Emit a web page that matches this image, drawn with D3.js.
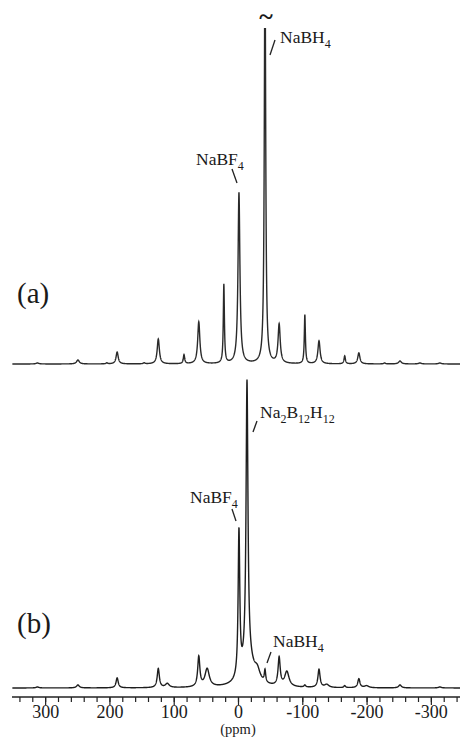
<!DOCTYPE html>
<html>
<head>
<meta charset="utf-8">
<style>
body { margin: 0; background: #fff; }
svg { display: block; }
text { font-family: "Liberation Serif", "DejaVu Serif", serif; fill: #1a1a1a; }
</style>
</head>
<body>
<svg width="460" height="737"></svg>
<script src="https://d3js.org/d3.v7.min.js"></script>
<script>

// (a) peaks: shift (ppm), height, line width (ppm)
var shiftsA  = [312, 249, 204, 188, 146, 124, 84, 61, 22, -1.5, -42, -64, -104, -126, -166, -188, -228, -252, -283, -314];
var heightsA = [1, 4, 1, 12, 1, 25, 9, 42, 79, 171, 420, 39, 49, 23, 8, 11, 1, 3, 1, 1];
var widthsA  = [5, 5, 3, 4, 3, 4, 2.5, 4, 2, 3.5, 2.5, 4, 2, 4, 2.5, 4, 3, 5, 5, 5];

// (b) peaks
var shiftsB  = [312, 249, 188, 124, 110, 61, 48, -1.5, -14, -16, -30, -42, -64, -76, -104, -126, -138, -166, -188, -200, -252, -314];
var heightsB = [1, 3, 10, 19, 4, 30, 18, 146, 281, 25, 10, 12, 28, 15, 2, 18, 3, 2, 9, 2, 3, 1];
var widthsB  = [5, 5, 4, 4, 7, 4, 8, 3, 3.5, 22, 10, 2.5, 4, 8, 3, 4, 8, 3, 4, 8, 5, 5];

var majorTicks = [300, 200, 100, 0, -100, -200, -300];

var svg = d3.select("svg"),
    width = +svg.attr("width"),
    height = +svg.attr("height");

var x = d3.scaleLinear()
    .domain([350, -350])
    .range([13, 463]);

var yA = d3.scaleLinear().domain([0, 340]).range([364, 24]);
var yB = d3.scaleLinear().domain([0, 340]).range([688, 348]);

var grid = d3.range(351, -350, -0.2);

// sum of lorentzian lines for one panel
function spectrum(shifts, heights, widths) {
  return grid.map(function(p) {
    var s = 0;
    for (var i = 0; i < shifts.length; i++) {
      var d = 2 * (p - shifts[i]) / widths[i];
      s += heights[i] / (1 + d * d);
    }
    return [p, s];
  });
}

svg.append("clipPath")
    .attr("id", "clipA")
  .append("rect")
    .attr("x", 0).attr("y", 28)
    .attr("width", width).attr("height", 340);

svg.append("path")
    .datum(spectrum(shiftsA, heightsA, widthsA))
    .attr("clip-path", "url(#clipA)")
    .attr("fill", "none")
    .attr("stroke", "#2a2a2a")
    .attr("stroke-width", 1.4)
    .attr("d", d3.line().x(function(d) { return x(d[0]); }).y(function(d) { return yA(d[1]); }));

svg.append("path")
    .datum(spectrum(shiftsB, heightsB, widthsB))
    .attr("fill", "none")
    .attr("stroke", "#1e1e1e")
    .attr("stroke-width", 1.4)
    .attr("d", d3.line().x(function(d) { return x(d[0]); }).y(function(d) { return yB(d[1]); }));

// axis: minor ticks every 20 ppm, labelled ones every 100
var gx = svg.append("g")
    .attr("transform", "translate(0,697)");

gx.append("g")
    .call(d3.axisBottom(x).tickValues(d3.range(-340, 341, 20)).tickSize(5).tickFormat(""))
  .select(".domain").remove();

gx.append("g")
    .call(d3.axisBottom(x).tickValues(majorTicks).tickSize(8).tickPadding(0).tickFormat(function(d) { return String(d); }))
  .call(function(g) {
    g.select(".domain").remove();
    g.selectAll("text").attr("font-size", 18).attr("font-family", null).attr("fill", "#1a1a1a");
  });

gx.selectAll("line").attr("stroke", "#222").attr("stroke-width", 1.2);

gx.append("line")
    .attr("x1", 12).attr("x2", width)
    .attr("stroke", "#222").attr("stroke-width", 1.4);

svg.append("text")
    .attr("x", x(0))
    .attr("y", 733.5)
    .attr("text-anchor", "middle")
    .attr("font-size", 14.5)
    .text("(ppm)");

// panel letters
svg.append("text").attr("x", 17).attr("y", 303).attr("font-size", 29).text("(a)");
svg.append("text").attr("x", 17).attr("y", 633).attr("font-size", 29).text("(b)");

// labels with subscripts
function label(xp, yp, parts) {
  var t = svg.append("text").attr("x", xp).attr("y", yp).attr("font-size", 17.5);
  var down = false;
  parts.forEach(function(p) {
    var sub = p[1];
    var s = t.append("tspan").text(p[0]);
    if (sub && !down) { s.attr("dy", 5).attr("font-size", 12); down = true; }
    else if (sub) { s.attr("font-size", 12); }
    else if (down) { s.attr("dy", -5); down = false; }
  });
}

label(196, 165, [["NaBF"], ["4", 1]]);
label(280, 43, [["NaBH"], ["4", 1]]);
label(260, 418, [["Na"], ["2", 1], ["B"], ["12", 1], ["H"], ["12", 1]]);
label(190, 503, [["NaBF"], ["4", 1]]);
label(273, 647, [["NaBH"], ["4", 1]]);

var leaders = [
  [232, 169, 237, 183],
  [275, 40, 270, 55],
  [257, 421, 253, 432],
  [232, 509, 236, 521],
  [271, 652, 267, 663]
];
svg.selectAll(".leader")
  .data(leaders)
  .enter().append("line")
    .attr("class", "leader")
    .attr("x1", function(d) { return d[0]; })
    .attr("y1", function(d) { return d[1]; })
    .attr("x2", function(d) { return d[2]; })
    .attr("y2", function(d) { return d[3]; })
    .attr("stroke", "#222")
    .attr("stroke-width", 1.3);

// break mark over the clipped NaBH4 line
svg.append("text")
    .attr("x", x(-42) + 1)
    .attr("y", 25)
    .attr("text-anchor", "middle")
    .attr("font-size", 26)
    .attr("font-weight", "bold")
    .text("~");

</script>
</body>
</html>
